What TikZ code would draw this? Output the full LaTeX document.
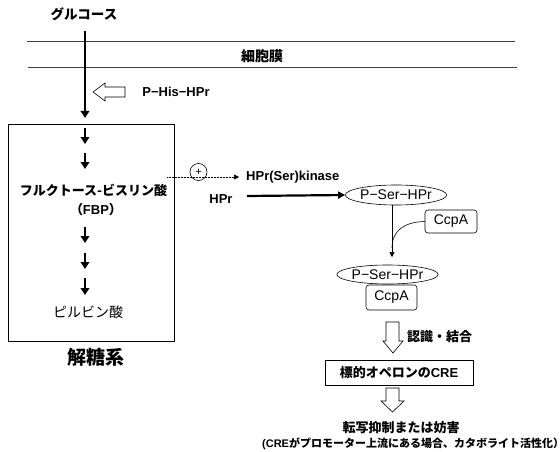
\documentclass[tikz,border=0pt]{standalone}
\usepackage{fontspec}
\setmainfont{Liberation Sans}
\newfontfamily\jp{Noto Sans CJK JP}
\usetikzlibrary{arrows.meta,shapes.geometric}
\tikzset{
  lbl/.style={inner sep=0pt, font=\fontsize{#1}{#1}\selectfont},
  blbl/.style={inner sep=0pt, font=\fontsize{#1}{#1}\selectfont\bfseries},
  thickarr/.style={line width=2.4pt, -{Triangle[length=7pt,width=8.5pt]}},
  thinarr/.style={line width=0.6pt, -{Triangle[length=5pt,width=5pt]}},
  hollow/.style={draw=black, line width=0.6pt, fill=white},
  oval/.style={ellipse, draw, line width=0.6pt, inner sep=0pt, font=\fontsize{14}{14}\selectfont},
  rbox/.style={rounded corners=3pt, draw, line width=0.6pt, inner sep=0pt, font=\fontsize{14}{14}\selectfont},
  memb/.style={line width=0.7pt, draw=black!75},
}
\begin{document}
\begin{tikzpicture}[x=1pt,y=-1pt]
\useasboundingbox (0,0) rectangle (560,452);
% membrane
\coordinate (m1a) at (27,41); \coordinate (m1b) at (515,41);
\coordinate (m2a) at (28,67); \coordinate (m2b) at (517,67);
\draw[memb] (m1a) -- (m1b);
\draw[memb] (m2a) -- (m2b);
\node[blbl=14] (memb) at (262,56) {\jp 細胞膜};
% glucose
\node[blbl=13.5] (glc) at (84,14) {\jp グルコース};
\coordinate (g0) at (85,31);
\coordinate (g1) at (85,118);
\draw[thickarr] (g0) -- (g1);
% P-His-HPr hollow arrow
\draw[hollow] (93,92) -- (105,83) -- (105,87) -- (125,87) -- (125,97) -- (105,97) -- (105,101) -- cycle;
\node[blbl=13] (phis) at (176,92) {P−His−HPr};
% glycolysis box
\node[draw, line width=0.6pt, minimum width=166pt, minimum height=217pt, inner sep=0pt] (glyc) at (91,232.5) {};
\coordinate (a1s) at (85,128); \coordinate (a1e) at (85,144);
\coordinate (a2s) at (85,153); \coordinate (a2e) at (85,169);
\coordinate (a3s) at (85,227); \coordinate (a3e) at (85,243);
\coordinate (a4s) at (85,253); \coordinate (a4e) at (85,269);
\coordinate (a5s) at (85,278); \coordinate (a5e) at (85,295);
\foreach \i in {1,...,5} \draw[thickarr] (a\i s) -- (a\i e);
\node[blbl=13] (fbp) at (93.5,190) {\jp フルクトース-ビスリン酸};
\node[blbl=13] (fbpab) at (96,210) {{\jp （}FBP{\jp ）}};
\node[lbl=14] (pyr) at (88,312) {\jp ピルビン酸};
\node[blbl=19] (gly) at (96,357) {\jp 解糖系};
% kinase activation
\coordinate (d0) at (167,177);
\node[blbl=13, anchor=west] (kin) at (246,177) {HPr(Ser)kinase};
\draw[densely dotted, line width=0.5pt, -{Triangle[length=5pt,width=5pt]}] (d0) -- ([xshift=-7pt]kin.west);
\node[circle, draw, line width=0.6pt, minimum size=17pt, inner sep=0pt, font=\fontsize{11}{11}\selectfont] (plus) at (198.5,172) {+};
\node[blbl=13] (hpr) at (221,199) {HPr};
% P-Ser-HPr
\node[oval, minimum width=88pt, minimum height=20pt] (ps1) at (396,195) {P−Ser−HPr};
\coordinate (h0) at (247,196);
\draw[line width=2.2pt, -{Triangle[length=7pt,width=7pt]}] (h0) -- (ps1.west);
\node[rbox, minimum width=52pt, minimum height=23pt] (ccpa1) at (451,221.5) {CcpA};
\coordinate (v1) at (392,257);
\coordinate (vj) at (392,248);
\draw[thinarr] (ps1.south -| v1) -- (v1);
\draw[line width=0.6pt] (ccpa1.west) .. controls (405,222) and (392,230) .. (vj);
\node[oval, minimum width=89pt, minimum height=19pt] (ps2) at (387.5,274.5) {P−Ser−HPr};
\node[rbox, minimum width=51pt, minimum height=25pt] (ccpa2) at (391.5,297.5) {CcpA};
% hollow arrow 1
\draw[hollow] (386,322) -- (399,322) -- (399,341) -- (403,341) -- (393,353) -- (383,341) -- (386,341) -- cycle;
\node[blbl=13, anchor=west] (rec) at (407,337) {\jp 認識・結合};
% CRE box
\node[draw, line width=0.6pt, minimum width=148pt, minimum height=25pt, inner sep=0pt, font=\fontsize{13}{13}\selectfont\bfseries] (cre) at (399,372.5) {{\jp 標的オペロンの}CRE};
% hollow arrow 2
\draw[hollow] (386,388) -- (399,388) -- (399,401) -- (404,401) -- (392.5,412) -- (381,401) -- (386,401) -- cycle;
\node[blbl=13] (rep) at (401,428) {\jp 転写抑制または妨害};
\node[blbl=11, anchor=west] (note) at (262,444) {(CRE{\jp がプロモーター上流にある場合、カタボライト活性化}{\jp ）}};
\end{tikzpicture}
\end{document}
